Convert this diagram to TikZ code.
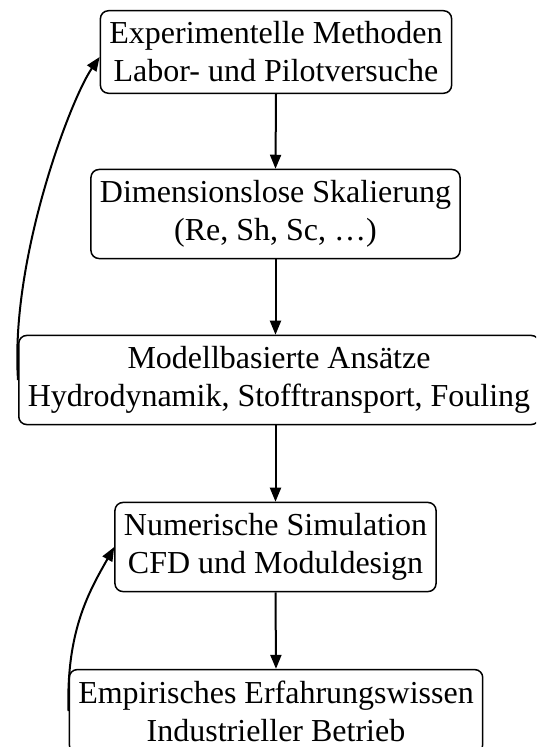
\documentclass[tikz,border=0pt]{standalone}
\usepackage{fontspec}
\setmainfont{Liberation Serif}
\usetikzlibrary{arrows.meta}
\begin{document}
\begin{tikzpicture}[x=1pt,y=1pt,
  box/.style={draw, line width=1.5pt, rounded corners=8pt, align=center,
    inner xsep=9pt, inner ysep=11pt,
    font=\fontsize{32}{38}\selectfont},
  arr/.style={line width=2pt, -{Triangle[length=14pt,width=11pt]}}]
\useasboundingbox (0,0) rectangle (536,-747);
\clip (0,0) rectangle (536,-747);
\node[box] (b1) at (276,-52) {Experimentelle Methoden\\Labor- und Pilotversuche};
\node[box] (b2) at (275.5,-214) {Dimensionslose Skalierung\\(Re, Sh, Sc, \dots)};
\node[box, anchor=west] (b3) at (18,-380) {Modellbasierte Ansätze\\Hydrodynamik, Stofftransport, Fouling};
\node[box] (b4) at (275.5,-547) {Numerische Simulation\\CFD und Moduldesign};
\node[box] (b5) at (276,-711) {Empirisches Erfahrungswissen\\Industrieller Betrieb};
\draw[arr] (b1.south) -- (b2.north);
\draw[arr] (b2.south) -- (b2.south |- b3.north);
\draw[arr] (b2.south |- b3.south) -- (b4.north);
\draw[arr] (b4.south) -- (b5.north);
\draw[arr] (b3.west) .. controls (10,-260) and (70,-100) .. ([yshift=-5pt]b1.west);
\draw[arr] (b5.west) .. controls (66,-630) and (90,-590) .. (b4.west);
\end{tikzpicture}
\end{document}
